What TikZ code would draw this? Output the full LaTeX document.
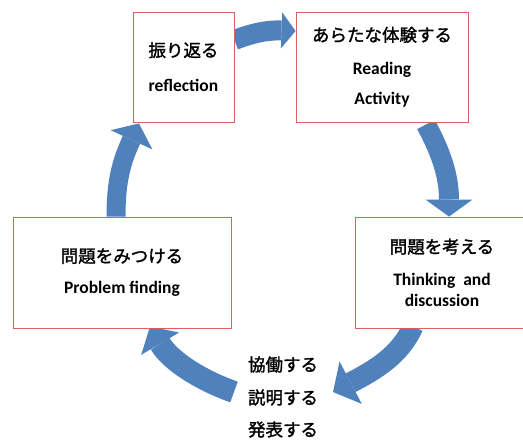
\documentclass[tikz,border=0pt]{standalone}
\usepackage{fontspec}
\setmainfont{Carlito}
\newfontfamily\jp{Noto Sans CJK JP}[BoldFont={Noto Sans CJK JP},BoldFeatures={FakeBold=1.6}]
\usetikzlibrary{arrows.meta}
\definecolor{cycblue}{HTML}{4F81BD}
\definecolor{boxred}{HTML}{D9605C}
\pgfdeclarelayer{bg}
\pgfsetlayers{bg,main}

\begin{document}
\begin{tikzpicture}[x=1pt,y=1pt,
  box/.style={draw=boxred,line width=.9pt,fill=white,align=center,inner sep=0pt,
    font=\fontsize{17.5}{32}\selectfont\bfseries},
  cyc/.style={draw=cycblue,line width=20pt}]
\useasboundingbox (0,0) rectangle (523,440);
\clip (0,0) rectangle (523,440);

\node[box,minimum width=101pt,minimum height=110pt] (refl) at (183.5,373)
  {{\jp 振り返る}\\[3pt] reflection};
\node[box,minimum width=172pt,minimum height=110pt] (read) at (382,373)
  {{\jp あらたな体験する}\\[1pt] Reading\\[-2pt] Activity};
\node[box,minimum width=218pt,minimum height=111pt] (find) at (122,167.5)
  {{\jp 問題をみつける}\\[-1pt] Problem finding};
\node[box,minimum width=174pt,minimum height=111pt] (think) at (442,167.5)
  {{\jp 問題を考える}\\ Thinking~~and\\[-11pt] discussion};
\node[box,draw=none,fill=none] (talk) at (283,43)
  {{\jp 協働する}\\[1pt] {\jp 説明する}\\ {\jp 発表する}};

\begin{pgfonlayer}{bg}
\draw[cyc,-{Triangle[length=14pt,width=36pt,line width=0pt]}]
  ([yshift=27pt]refl.east) .. controls +(21,8) and +(-26,1) .. ([yshift=36pt]read.west);
\draw[cyc,-{Triangle[length=17pt,width=47pt,line width=0pt]}]
  ([shift={(44,-2)}]read.south) .. controls +(14,-26) and +(0,42) .. ([xshift=7pt]think.north);
\draw[cyc,line width=21pt,-{Triangle[length=20pt,width=48pt,line width=0pt]}]
  ([shift={(-29,2)}]think.south) .. controls +(-13,-29) and +(42,22) .. ([shift={(50,5)}]talk.center);
\draw[cyc,line width=22pt,-{Triangle[length=20pt,width=44pt,line width=0pt]}]
  ([shift={(-49,5)}]talk.center) .. controls +(-34,12) and +(20,-34) .. ([shift={(28,2)}]find.south);
\draw[cyc,line width=19pt,-{Triangle[length=18pt,width=46pt,line width=0pt]}]
  ([xshift=-6pt]find.north) .. controls +(0,37) and +(-17,-37) .. ([shift={(-44.5,-1)}]refl.south);
\end{pgfonlayer}
\end{tikzpicture}
\end{document}
